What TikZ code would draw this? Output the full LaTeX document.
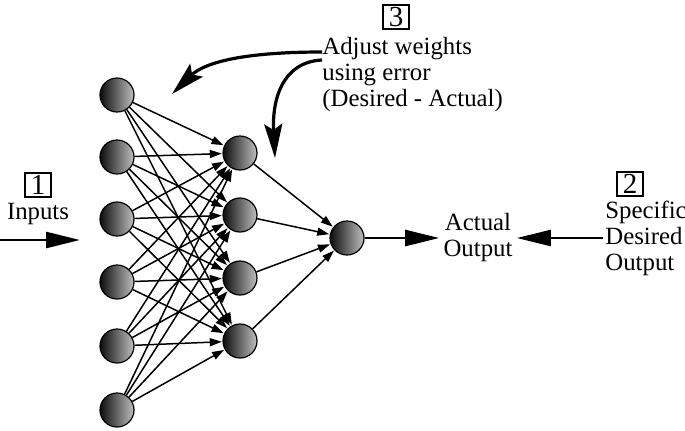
\documentclass[tikz,border=0pt]{standalone}
\usepackage{fontspec}
\setmainfont{Liberation Serif}
\usetikzlibrary{arrows.meta}

\tikzset{
  neuron/.style={circle, draw, line width=0.6pt, minimum size=17pt, inner sep=0pt,
    left color=black!95, right color=black!25},
  netarrow/.style={line width=0.75pt, -{Triangle[length=6pt,width=4pt]}, shorten >=0.3pt},
  bigarrow/.style={line width=1.3pt, -{Triangle[length=17pt,width=8pt]}},
  curvearrow/.style={line width=1.6pt, -{Stealth[length=17pt,width=9pt,inset=3pt]}},
  numbox/.style={draw, line width=0.6pt, minimum width=13pt, minimum height=12pt,
    inner sep=0.5pt, font=\fontsize{14.5}{14.5}\selectfont},
  label/.style={font=\fontsize{12.4}{13}\selectfont}
}

\begin{document}
\begin{tikzpicture}[x=0.5pt,y=-0.5pt]
\useasboundingbox (0,0) rectangle (685,430);

% input layer
\foreach \i/\y in {1/95,2/157,3/219,4/282,5/346,6/410}
  \node[neuron] (in\i) at (117,\y) {};

% hidden layer
\foreach \j/\y in {1/153,2/215,3/278,4/341}
  \node[neuron] (hid\j) at (240,\y) {};

% output neuron
\node[neuron] (out) at (347,238) {};

% weights
\foreach \i in {1,...,6}
  \foreach \j in {1,...,4}
    \draw[netarrow] (in\i) -- (hid\j);
\foreach \j in {1,...,4}
  \draw[netarrow] (hid\j) -- (out);

% inputs
\node[numbox] (box1) at (38,185) {1};
\node[label] (inputs) at (38,214) {Inputs};
\coordinate (inl) at (0,240);
\coordinate (inr) at (80,240);
\draw[bigarrow] (inl) -- (inr);

% actual output
\node[label, align=center, inner sep=2pt] (actual) at (478,238) {Actual\\Output};
\draw[bigarrow] (out) -- (actual.west);

% desired output
\node[numbox] (box2) at (630,184) {2};
\node[label, align=left, anchor=west, inner sep=0pt] (desired) at (605,238) {Specific\\Desired\\Output};
\draw[bigarrow] ([xshift=-1pt]desired.west) -- (actual.east);

% weight adjustment
\node[numbox] (box3) at (396,17) {3};
\node[label, align=left, anchor=west, inner sep=2pt] (adjust) at (318,75) {Adjust weights\\using error\\(Desired - Actual)};
\coordinate (tipa) at (172,94);
\coordinate (tipb) at (275,158);
\draw[curvearrow] (322,52) .. controls (245,52) and (205,62) .. (tipa);
\draw[curvearrow] (322,60) .. controls (282,62) and (272,100) .. (tipb);

\end{tikzpicture}
\end{document}
